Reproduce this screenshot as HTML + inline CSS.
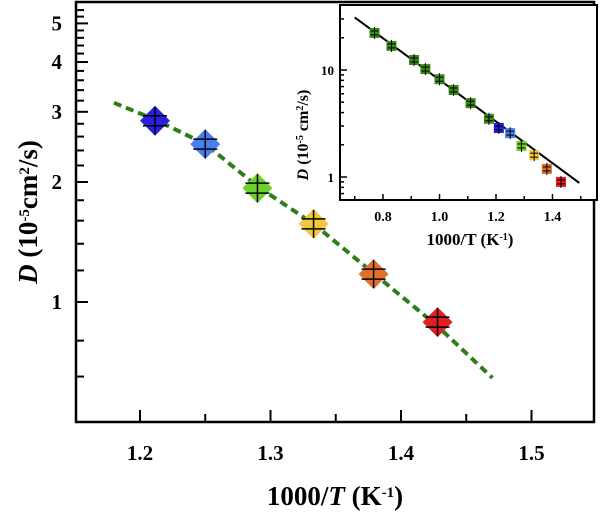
<!DOCTYPE html>
<html><head><meta charset="utf-8"><style>
html,body{margin:0;padding:0;background:#fff}
svg{display:block}
text{font-family:"Liberation Serif",serif;font-weight:bold;fill:#000}
</style></head><body>
<svg id="chart" width="600" height="518" viewBox="0 0 600 518"></svg>
<script>
// Main chart data
const mainX = [1.2115, 1.25, 1.29, 1.333, 1.379, 1.428];
const mainY = [2.85, 2.49, 1.93, 1.57, 1.175, 0.89];
const mainColors = ['#2a1ee0', '#4a7ef0', '#6ed02a', '#f0c840', '#e0702a', '#e02020'];
const fitX = [1.18, 1.2115, 1.25, 1.29, 1.333, 1.379, 1.428, 1.47];
const fitY = [3.16, 2.87, 2.49, 1.95, 1.57, 1.18, 0.87, 0.645];
const mainXTicks = [1.2, 1.3, 1.4, 1.5];
const mainXMinor = [1.25, 1.35, 1.45];
const mainYTicks = [1, 2, 3, 4, 5];
const mainYMinor = [0.65, 0.8, 1.2, 1.4, 1.6, 1.8, 2.2, 2.4, 2.6, 2.8, 3.2, 3.4, 3.6, 3.8, 4.2, 4.4, 4.6, 4.8, 5.2, 5.4];
// Inset data
const insetX = [0.77, 0.83, 0.91, 0.95, 1.0, 1.05, 1.11, 1.175, 1.21, 1.25, 1.29, 1.335, 1.38, 1.43];
const insetY = [22.2, 16.8, 12.4, 10.2, 8.2, 6.5, 4.9, 3.5, 2.87, 2.57, 1.95, 1.6, 1.19, 0.9];
const insetColors = ['#3a8a1a','#3a8a1a','#3a8a1a','#3a8a1a','#3a8a1a','#3a8a1a','#3a8a1a','#3a8a1a','#2a1ee0','#4a7ef0','#6ed02a','#f0c840','#e0702a','#e02020'];
const insetLineX = [0.70, 1.495];
const insetLineY = [31, 0.88];
const insetXTicks = [0.8, 1.0, 1.2, 1.4];
const insetXTickLabels = ['0.8', '1.0', '1.2', '1.4'];
const insetXMinor = [0.7, 0.9, 1.1, 1.3, 1.5];
const insetYTicks = [1, 10];
const insetYMinor = [0.7, 0.8, 0.9, 2, 3, 4, 5, 6, 7, 8, 9, 20, 30];

const NS = 'http://www.w3.org/2000/svg';
const svg = document.getElementById('chart');
function el(tag, attrs, parent) {
  const e = document.createElementNS(NS, tag);
  for (const k in attrs) e.setAttribute(k, attrs[k]);
  (parent || svg).appendChild(e);
  return e;
}
const mx = v => 140 + (v - 1.2) * 1305;
const my = v => 302 - Math.log10(v) * 398.6;
const ix = v => 383 + (v - 0.8) * 282.5;
const iy = v => 177 - Math.log10(v) * 107;

const frame = el('rect', {x: 76, y: 2, width: 518, height: 420, fill: 'none', stroke: '#000', 'stroke-width': 2.5});



mainXTicks.forEach((t, i) => {
  const x = mx(t);
  const tk = el('line', {x1: x, x2: x, y1: 422, y2: 410, stroke: '#000', 'stroke-width': 2});
  
  
  const lb = el('text', {x: x, y: 460, 'font-size': 21, 'text-anchor': 'middle'});
  lb.textContent = t.toFixed(1);
  
  
});
mainXMinor.forEach(t => {
  const x = mx(t);
  const tk = el('line', {x1: x, x2: x, y1: 422, y2: 414, stroke: '#000', 'stroke-width': 2});
  
  
});
mainYTicks.forEach(t => {
  const y = my(t);
  const tk = el('line', {x1: 76, x2: 88, y1: y, y2: y, stroke: '#000', 'stroke-width': 2});
  
  
  const lb = el('text', {x: 62, y: y + 7, 'font-size': 21, 'text-anchor': 'end'});
  lb.textContent = String(t);
  
  
});
mainYMinor.forEach(t => {
  const y = my(t);
  if (y < 3) return;
  const tk = el('line', {x1: 76, x2: 84, y1: y, y2: y, stroke: '#000', 'stroke-width': 2});
  
  
});

const xt = el('text', {x: 335, y: 505, 'font-size': 27, 'text-anchor': 'middle'});
xt.innerHTML = '1000/<tspan font-style="italic">T</tspan> (K<tspan baseline-shift="super" font-size="15">-1</tspan>)';


const yt = el('text', {x: 0, y: 0, 'font-size': 27, 'text-anchor': 'middle', transform: 'translate(37,212) rotate(-90)'});
yt.innerHTML = '<tspan font-style="italic">D</tspan> (10<tspan baseline-shift="super" font-size="15">-5</tspan>cm<tspan baseline-shift="super" font-size="15">2</tspan>/s)';



let d = '';
fitX.forEach((v, i) => { d += (i ? 'L' : 'M') + mx(v).toFixed(1) + ' ' + my(fitY[i]).toFixed(1); });
const fit = el('path', {d: d, fill: 'none', stroke: '#2e7d1a', 'stroke-width': 4, 'stroke-dasharray': '8 5'});



mainX.forEach((v, i) => {
  const x = mx(v), y = my(mainY[i]);
  const g = el('g', {});
  
  
  el('polygon', {points: `${x},${y-15} ${x+15},${y} ${x},${y+15} ${x-15},${y}`, fill: mainColors[i], stroke: 'none'}, g);
  el('line', {x1: x, x2: x, y1: y-14, y2: y+14, stroke: '#000', 'stroke-width': 1.5}, g);
  el('line', {x1: x-12, x2: x+12, y1: y-5, y2: y-5, stroke: '#000', 'stroke-width': 1.5}, g);
  el('line', {x1: x-12, x2: x+12, y1: y+5, y2: y+5, stroke: '#000', 'stroke-width': 1.5}, g);
});

const ib = el('rect', {x: 340, y: 5, width: 257, height: 195, fill: '#fff', stroke: '#000', 'stroke-width': 2});


insetXTicks.forEach((t, i) => {
  const x = ix(t);
  const tk = el('line', {x1: x, x2: x, y1: 200, y2: 194, stroke: '#000', 'stroke-width': 1.5});
  
  
  const lb = el('text', {x: x, y: 221, 'font-size': 14, 'text-anchor': 'middle'});
  lb.textContent = insetXTickLabels[i];
  
  
});
insetXMinor.forEach(t => {
  const x = ix(t);
  const tk = el('line', {x1: x, x2: x, y1: 200, y2: 196, stroke: '#000', 'stroke-width': 1.5});
  
  
});
insetYTicks.forEach(t => {
  const y = iy(t);
  const tk = el('line', {x1: 340, x2: 347, y1: y, y2: y, stroke: '#000', 'stroke-width': 1.5});
  
  
  const lb = el('text', {x: 334, y: y + 5, 'font-size': 13, 'text-anchor': 'end'});
  lb.textContent = String(t);
  
  
});
insetYMinor.forEach(t => {
  const y = iy(t);
  const tk = el('line', {x1: 340, x2: 344, y1: y, y2: y, stroke: '#000', 'stroke-width': 1.5});
  
  
});
const ixt = el('text', {x: 470, y: 245, 'font-size': 17, 'text-anchor': 'middle'});
ixt.innerHTML = '1000/T (K<tspan baseline-shift="super" font-size="10">-1</tspan>)';


const iyt = el('text', {x: 0, y: 0, 'font-size': 16, 'text-anchor': 'middle', transform: 'translate(308,135) rotate(-90)'});
iyt.innerHTML = '<tspan font-style="italic">D</tspan> (10<tspan baseline-shift="super" font-size="10">-5</tspan> cm<tspan baseline-shift="super" font-size="10">2</tspan>/s)';



const ifit = el('line', {x1: ix(insetLineX[0]), y1: iy(insetLineY[0]), x2: ix(insetLineX[1]), y2: iy(insetLineY[1]), stroke: '#000', 'stroke-width': 2});



insetX.forEach((v, i) => {
  const x = ix(v), y = iy(insetY[i]);
  const g = el('g', {});
  
  
  el('rect', {x: x-5, y: y-5, width: 10, height: 10, fill: insetColors[i]}, g);
  el('line', {x1: x, x2: x, y1: y-6, y2: y+6, stroke: '#000', 'stroke-width': 1}, g);
  el('line', {x1: x-4, x2: x+4, y1: y-2, y2: y-2, stroke: '#000', 'stroke-width': 1}, g);
  el('line', {x1: x-4, x2: x+4, y1: y+2, y2: y+2, stroke: '#000', 'stroke-width': 1}, g);
});
</script>
</body></html>
